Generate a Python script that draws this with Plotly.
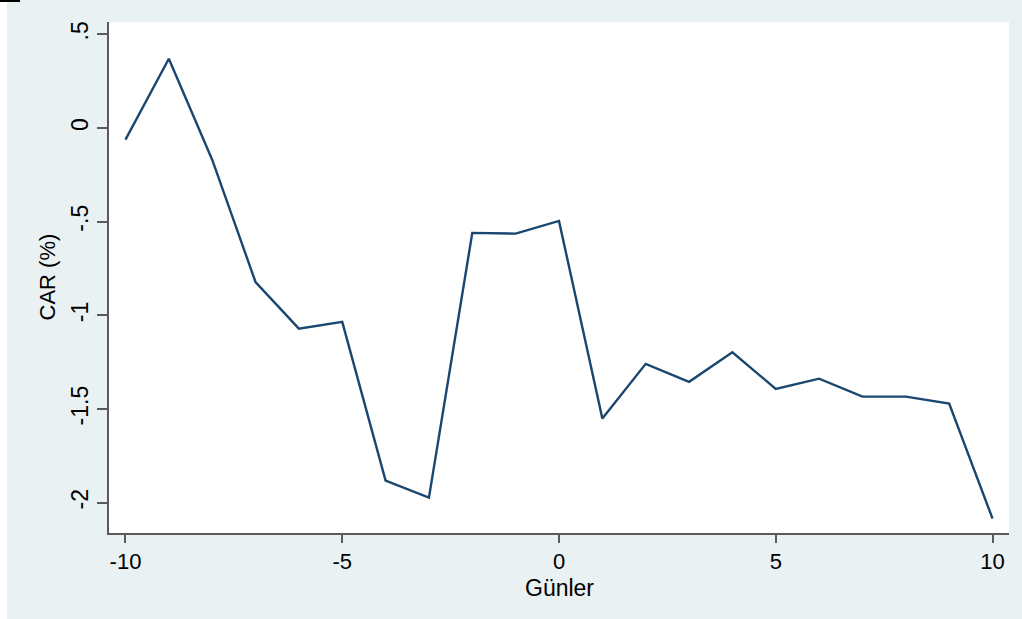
import plotly.graph_objects as go

days = list(range(-10, 11))
car = [-0.062, 0.370, -0.169, -0.822, -1.071, -1.035, -1.882, -1.973, -0.560, -0.564,
       -0.496, -1.551, -1.259, -1.355, -1.197, -1.393, -1.338, -1.434, -1.434, -1.471, -2.085]
x_ticks = [-10, -5, 0, 5, 10]
x_tick_text = ["-10", "-5", "0", "5", "10"]
y_ticks = [-2, -1.5, -1, -0.5, 0, 0.5]
y_tick_text = ["-2", "-1.5", "-1", "-.5", "0", ".5"]

BG = "#e9f1f3"
AX = "#5a5a5a"
FONT = "Liberation Sans, Arial, sans-serif"

fig = go.Figure(go.Scatter(x=days, y=car, mode="lines",
                           line=dict(color="#1a476f", width=2.4)))

L, R, T, B = 109, 13, 22, 86
W, H = 1022, 619
pw, ph = W - L - R, H - T - B

fig.update_layout(
    width=W, height=H,
    margin=dict(l=L, r=R, t=T, b=B),
    paper_bgcolor=BG, plot_bgcolor="white",
    showlegend=False,
    font=dict(family=FONT, color="black"),
    xaxis=dict(range=[-10.38, 10.38], tickvals=x_ticks, ticktext=x_tick_text,
               ticks="outside", ticklen=8,
               tickwidth=1.5, tickcolor=AX, showline=True, linecolor=AX, linewidth=1.5,
               showgrid=False, zeroline=False, tickfont=dict(size=22, family=FONT)),
    yaxis=dict(range=[-2.162, 0.566], tickvals=y_ticks, ticktext=y_tick_text,
               ticks="outside", ticklen=10, tickwidth=1.5, tickcolor=AX, showline=True,
               linecolor=AX, linewidth=1.5, showgrid=False, zeroline=False,
               tickangle=-90, tickfont=dict(size=23, family=FONT)),
    annotations=[
        dict(text="CAR (%)", xref="paper", yref="paper", x=0, y=0.5, xshift=-62,
             textangle=-90, showarrow=False, xanchor="center", yanchor="middle",
             font=dict(size=22, family=FONT)),
        dict(text="Günler", xref="paper", yref="paper", x=0.5, y=0, yshift=-55,
             showarrow=False, xanchor="center", yanchor="middle",
             font=dict(size=23, family=FONT)),
    ],
    shapes=[
        dict(type="rect", xref="paper", yref="paper", x0=-L / pw, x1=-(L - 7) / pw,
             y0=-B / ph, y1=1 + T / ph, fillcolor="white", line=dict(width=0), layer="above"),
        dict(type="rect", xref="paper", yref="paper", x0=-L / pw, x1=-(L - 20) / pw,
             y0=1 + (T - 2) / ph, y1=1 + T / ph, fillcolor="black", line=dict(width=0),
             layer="above"),
    ],
)

fig.write_html("out.html", config={"displayModeBar": False},
               post_script="document.body.style.margin='0px';")
